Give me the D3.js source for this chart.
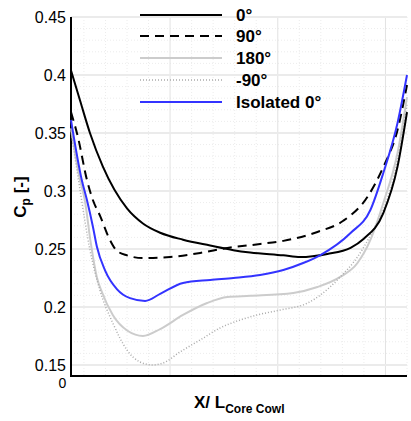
<!DOCTYPE html>
<html><head><meta charset="utf-8">
<script src="https://cdn.jsdelivr.net/npm/d3@7"></script>
<style>body{margin:0;background:#fff}svg{display:block}</style>
</head><body>
<svg id="c" width="411" height="421"></svg>
<script>
const yTicks = [0.15, 0.2, 0.25, 0.3, 0.35, 0.4, 0.45];
const yTickLabels = ["0.15", "0.2", "0.25", "0.3", "0.35", "0.4", "0.45"];
const xMajor = [0.25, 0.5, 0.75];
const xZeroLabel = "0";
const seriesNames = ["0°", "90°", "180°", "-90°", "Isolated 0°"];

const s0 = [[0.02,0.404],[0.041,0.378],[0.064,0.35],[0.094,0.321],[0.15,0.285],[0.187,0.272],[0.227,0.264],[0.28,0.258],[0.343,0.253],[0.397,0.249],[0.436,0.247],[0.513,0.2445],[0.552,0.243],[0.615,0.2457],[0.669,0.251],[0.699,0.2586],[0.745,0.281],[0.778,0.321],[0.8,0.368]];
const s90 = [[0.02,0.368],[0.036,0.3466],[0.057,0.3095],[0.071,0.292],[0.087,0.279],[0.11,0.258],[0.125,0.249],[0.15,0.2445],[0.187,0.2422],[0.25,0.2431],[0.32,0.2466],[0.383,0.2509],[0.459,0.2543],[0.513,0.257],[0.592,0.2647],[0.652,0.2743],[0.708,0.2948],[0.745,0.3207],[0.778,0.3526],[0.8,0.3914]];
const s180 = [[0.02,0.354],[0.041,0.3095],[0.052,0.2922],[0.066,0.255],[0.08,0.2257],[0.092,0.2127],[0.117,0.1931],[0.152,0.1793],[0.187,0.175],[0.227,0.181],[0.28,0.1931],[0.336,0.2034],[0.383,0.2086],[0.436,0.2096],[0.536,0.2121],[0.592,0.2172],[0.645,0.2259],[0.685,0.2379],[0.715,0.2578],[0.745,0.2897],[0.778,0.3328],[0.8,0.381]];
const sm90 = [[0.02,0.352],[0.041,0.3009],[0.064,0.2491],[0.087,0.2147],[0.117,0.1862],[0.15,0.1629],[0.18,0.1526],[0.21,0.15],[0.234,0.1517],[0.273,0.1612],[0.32,0.1716],[0.366,0.1819],[0.413,0.1888],[0.452,0.1931],[0.506,0.1974],[0.569,0.2034],[0.599,0.2103],[0.645,0.2259],[0.685,0.2431],[0.722,0.2664],[0.745,0.2836],[0.778,0.3267],[0.8,0.3741]];
const sIso = [[0.02,0.3612],[0.045,0.3095],[0.057,0.2922],[0.071,0.269],[0.08,0.2521],[0.099,0.2316],[0.127,0.2152],[0.157,0.2076],[0.192,0.2052],[0.227,0.2113],[0.28,0.2207],[0.343,0.2233],[0.397,0.225],[0.459,0.2276],[0.513,0.2319],[0.559,0.2379],[0.599,0.2448],[0.669,0.2638],[0.715,0.2836],[0.745,0.3155],[0.778,0.3586],[0.8,0.4]];

const svg = d3.select("#c");
const x = d3.scaleLinear().domain([0.02, 0.8]).range([71, 407]);
const y = d3.scaleLinear().domain([0.1405, 0.45]).range([376, 17]);
const font = "'Liberation Sans', Arial, sans-serif";

// minor grid
const xMinor = d3.range(0.05, 0.8001, 0.05).filter(v => v > 0.021 && !xMajor.some(m => Math.abs(m - v) < 1e-6));
const yMinor = d3.range(0.15, 0.4501, 0.01).filter(v => !yTicks.some(m => Math.abs(m - v) < 1e-6));
svg.append("g").selectAll("line").data(xMinor).join("line")
  .attr("x1", d => x(d)).attr("x2", d => x(d)).attr("y1", y(0.45)).attr("y2", y(0.1405))
  .attr("stroke", "#ececec").attr("stroke-width", 1).attr("stroke-dasharray", "1,2");
svg.append("g").selectAll("line").data(yMinor).join("line")
  .attr("x1", x(0.02)).attr("x2", x(0.8)).attr("y1", d => y(d)).attr("y2", d => y(d))
  .attr("stroke", "#ececec").attr("stroke-width", 1).attr("stroke-dasharray", "1,2");
// major grid
svg.append("g").selectAll("line").data(xMajor).join("line")
  .attr("x1", d => x(d)).attr("x2", d => x(d)).attr("y1", y(0.45)).attr("y2", y(0.1405))
  .attr("stroke", "#e2e2e2").attr("stroke-width", 1);
svg.append("g").selectAll("line").data(yTicks).join("line")
  .attr("x1", x(0.02)).attr("x2", x(0.8)).attr("y1", d => y(d)).attr("y2", d => y(d))
  .attr("stroke", "#ebebeb").attr("stroke-width", 2);

// axes
const yAxis = d3.axisLeft(y).tickValues(yTicks).tickFormat((d, i) => yTickLabels[i]).tickSize(0).tickPadding(5);
const gy = svg.append("g").attr("transform", `translate(${x(0.02)},0)`).call(yAxis);
gy.select(".domain").remove();
gy.selectAll("text").attr("font-family", font).attr("font-size", 16).attr("fill", "#000");
svg.append("line").attr("x1", x(0.02)).attr("x2", x(0.02)).attr("y1", y(0.45)).attr("y2", y(0.1405) + 1)
  .attr("stroke", "#000").attr("stroke-width", 2);
svg.append("line").attr("x1", x(0.02) - 1).attr("x2", x(0.8)).attr("y1", y(0.1405)).attr("y2", y(0.1405))
  .attr("stroke", "#000").attr("stroke-width", 2);
svg.append("text").attr("x", x(0)).attr("y", 388).attr("text-anchor", "middle")
  .attr("font-family", font).attr("font-size", 14).text(xZeroLabel);

// series
const line = d3.line().x(d => x(d[0])).y(d => y(d[1])).curve(d3.curveMonotoneX);
const styles = [
  {data: s180, stroke: "#cccccc", w: 2, dash: null},
  {data: sm90, stroke: "#aaaaaa", w: 1.5, dash: "1,2"},
  {data: s0, stroke: "#000000", w: 2, dash: null},
  {data: s90, stroke: "#000000", w: 2, dash: "9,6"},
  {data: sIso, stroke: "#3333ff", w: 2, dash: null}
];
styles.forEach(s => {
  svg.append("path").attr("d", line(s.data)).attr("fill", "none")
    .attr("stroke", s.stroke).attr("stroke-width", s.w)
    .attr("stroke-dasharray", s.dash);
});

// legend
const legStyles = [
  {stroke: "#000000", w: 2, dash: null},
  {stroke: "#000000", w: 2, dash: "9,6"},
  {stroke: "#cccccc", w: 2, dash: null},
  {stroke: "#aaaaaa", w: 1.5, dash: "1,2"},
  {stroke: "#3333ff", w: 2, dash: null}
];
const legY = [15, 36, 58, 80, 102];
const lg = svg.append("g");
seriesNames.forEach((n, i) => {
  lg.append("line").attr("x1", 140).attr("x2", 222).attr("y1", legY[i]).attr("y2", legY[i])
    .attr("stroke", legStyles[i].stroke).attr("stroke-width", legStyles[i].w).attr("stroke-dasharray", legStyles[i].dash);
  lg.append("text").attr("x", 236).attr("y", legY[i] + 6).attr("font-family", font)
    .attr("font-size", 17).attr("font-weight", "bold").text(n);
});

// axis titles
const xt = svg.append("text").attr("x", 194).attr("y", 408).attr("font-family", font)
  .attr("font-weight", "bold").attr("font-size", 17);
xt.append("tspan").text("X/ L");
xt.append("tspan").attr("font-size", 12).attr("dy", 5).text("Core Cowl");

const yt = svg.append("text").attr("transform", "translate(26,197) rotate(-90)").attr("text-anchor", "middle")
  .attr("font-family", font).attr("font-weight", "bold").attr("font-size", 17);
yt.append("tspan").text("C");
yt.append("tspan").attr("font-size", 12).attr("dy", 4).text("p");
yt.append("tspan").attr("dy", -4).text(" [-]");
</script>
</body></html>
